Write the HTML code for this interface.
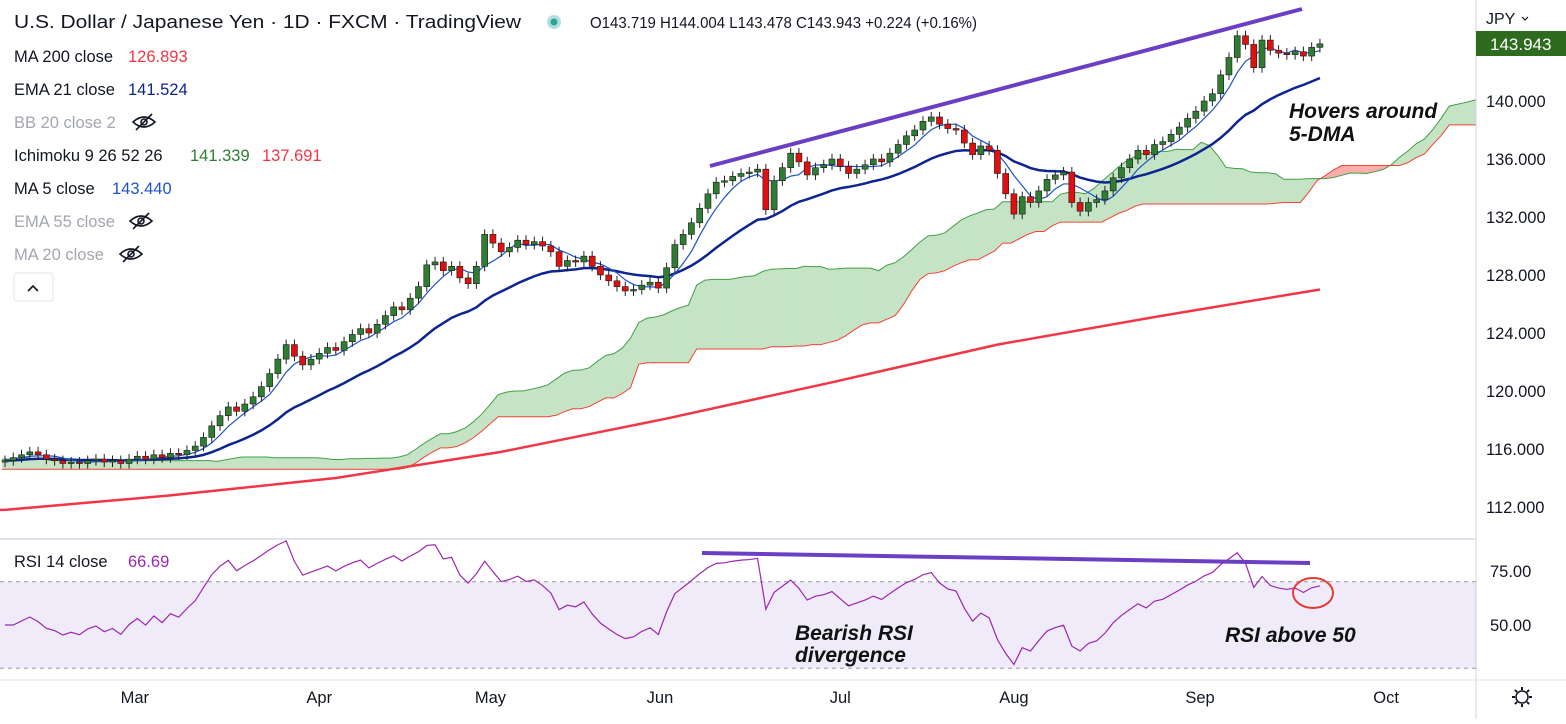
<!DOCTYPE html>
<html><head><meta charset="utf-8"><style>
html,body{margin:0;padding:0;background:#fff;}
body{width:1566px;height:719px;overflow:hidden;font-family:"Liberation Sans",sans-serif;}
svg text{font-family:"Liberation Sans",sans-serif;}
</style></head><body>
<svg id="c" width="1566" height="719" xmlns="http://www.w3.org/2000/svg"></svg>
<script>
const closes=[115.2,115.4,115.6,115.8,115.6,115.3,115.2,115.0,115.1,115.0,115.2,115.3,115.1,115.2,115.0,115.3,
115.5,115.3,115.6,115.4,115.7,115.6,115.9,116.2,116.8,
117.6,118.3,118.9,118.6,119.1,119.6,120.3,121.2,122.2,123.2,122.4,
121.8,122.2,122.6,123.0,122.8,123.4,123.9,124.3,124.0,124.6,125.2,125.8,125.6,126.4,127.2,128.7,128.9,128.3,128.6,127.8,127.4,128.6,130.8,130.2,129.6,129.9,130.4,130.1,130.3,130.0,129.6,128.6,129.0,128.9,129.3,128.6,128.0,127.6,127.2,126.9,127.0,127.3,127.5,127.1,128.5,130.1,130.8,131.6,132.6,133.6,134.4,134.5,134.8,135.0,135.1,135.3,132.5,134.5,135.4,136.4,135.8,134.9,135.4,135.6,136.0,135.5,135.0,135.3,135.6,136.0,135.8,136.4,137.0,137.6,138.0,138.6,138.9,138.4,138.1,138.0,137.1,136.3,136.9,136.6,135.0,133.6,132.2,133.4,133.0,133.8,134.6,134.9,135.1,133.0,132.4,133.0,133.2,133.8,134.7,135.4,136.0,136.6,136.3,137.0,137.2,137.7,138.2,138.8,139.3,140.0,140.5,141.8,143.0,144.5,143.9,142.3,144.2,143.5,143.3,143.2,143.4,143.1,143.7,143.943];
const ma200Idx=[0,20,40,60,80,100,120,140,159];
const ma200Val=[111.8,112.8,114.0,115.8,118.1,120.6,123.2,125.2,127.0];
const preSpanA=[115.3,115.3,115.4,115.4,115.3,115.3,115.2,115.2,115.2,115.2,115.2,115.2,115.2,115.2,115.2,115.2,115.2,115.2,115.2,115.2,115.2,115.2,115.2,115.2,115.2,115.2];
const preSpanB=[114.6,114.6,114.6,114.6,114.6,114.6,114.6,114.6,114.6,114.6,114.6,114.6,114.6,114.6,114.6,114.6,114.6,114.6,114.6,114.6,114.6,114.6,114.6,114.6,114.6,114.6];
const preHistHigh=116.3, preHistLow=112.9;
const priceTicks=[140,136,132,128,124,120,116,112];
const rsiTicks=[75,50];
const monthLabels=["Mar","Apr","May","Jun","Jul","Aug","Sep","Oct"];
const monthBar=[15.7,38,58.7,79.2,101,122,144.5,167];

const S=document.getElementById('c');const NS='http://www.w3.org/2000/svg';
function mk(t,a,p){const e=document.createElementNS(NS,t);for(const k in a)e.setAttribute(k,a[k]);(p||S).appendChild(e);return e;}
const X0=5,DX=8.27;
const xB=i=>X0+DX*i;
const yP=p=>101+(140-p)*14.5;
const yR=v=>571+(75-v)*2.16;
const N=closes.length;
const opens=closes.map((c,i)=>i?closes[i-1]:c-0.1);
const highs=closes.map((c,i)=>Math.max(c,opens[i])+0.35);
const lows=closes.map((c,i)=>Math.min(c,opens[i])-0.35);

const defs=mk('defs',{});const cp=mk('clipPath',{id:'cp'},defs);mk('rect',{x:0,y:0,width:1476,height:538},cp);
const cp2=mk('clipPath',{id:'cp2'},defs);mk('rect',{x:0,y:540,width:1476,height:140},cp2);
const main=mk('g',{'clip-path':'url(#cp)'});


function hl(i,n,pre){let h=-1e9,l=1e9;if(pre&&i-n+1<0){h=preHistHigh;l=preHistLow;}for(let k=Math.max(0,i-n+1);k<=i;k++){h=Math.max(h,highs[k]);l=Math.min(l,lows[k]);}return (h+l)/2;}
const spanA=preSpanA.slice(),spanB=preSpanB.slice();
for(let i=0;i<N;i++){spanA.push((hl(i,9)+hl(i,26))/2);spanB.push(hl(i,52,true));}
const xs=i=>xB(i)-3;
const cloud=mk('g',{},main);
for(let i=0;i<spanA.length-1;i++){const x1=xs(i),x2=xs(i+1);const g=(spanA[i]+spanA[i+1])>=(spanB[i]+spanB[i+1]);const col=g?'#c5e4c6':'#f8aeab';
mk('polygon',{points:`${x1},${yP(spanA[i])} ${x2},${yP(spanA[i+1])} ${x2},${yP(spanB[i+1])} ${x1},${yP(spanB[i])}`,fill:col,stroke:col,'stroke-width':0.6},cloud);}
const la=mk('polyline',{points:spanA.map((v,i)=>xs(i)+','+yP(v)).join(' '),fill:'none',stroke:'#43a047','stroke-width':1},main);
const lb=mk('polyline',{points:spanB.map((v,i)=>xs(i)+','+yP(v)).join(' '),fill:'none',stroke:'#f44336','stroke-width':1},main);

const m2=mk('polyline',{points:'0,'+yP(ma200Val[0])+' '+ma200Idx.map((b,k)=>xB(b)+','+yP(ma200Val[k])).join(' '),fill:'none',stroke:'#f23645','stroke-width':2.5},main);

let e=closes[0];const ema=[];closes.forEach(c=>{e=e+(c-e)*2/22;ema.push(e);});
const el=mk('polyline',{points:ema.map((v,i)=>xB(i)+','+yP(v)).join(' '),fill:'none',stroke:'#0c2590','stroke-width':2.5},main);

const ma5=closes.map((c,i)=>{let s=0,n=0;for(let k=Math.max(0,i-4);k<=i;k++){s+=closes[k];n++;}return s/n;});
const m5=mk('polyline',{points:ma5.map((v,i)=>xB(i)+','+yP(v)).join(' '),fill:'none',stroke:'#1e53c6','stroke-width':1.2},main);


const cg=mk('g',{},main);
for(let i=0;i<N;i++){const up=closes[i]>=opens[i];const x=xB(i);
mk('line',{x1:x,x2:x,y1:yP(highs[i]),y2:yP(lows[i]),stroke:'#222','stroke-width':1},cg);
const t=yP(Math.max(opens[i],closes[i])),b=yP(Math.min(opens[i],closes[i]));
const r=mk('rect',{x:x-3,y:t,width:6,height:Math.max(1.5,b-t),fill:up?'#2e7d32':'#e01010',stroke:'#1b1b1b','stroke-width':0.6},cg);
}

const t1=mk('line',{x1:710,y1:166,x2:1302,y2:9,stroke:'#6a3fc4','stroke-width':4},main);

function txt(x,y,s,a,name,inter){const t=mk('text',Object.assign({x:x,y:y},a));t.textContent=s;return t;}
function eye(x,y,c){const g=mk('g',{});
mk('path',{d:`M${x} ${y} Q${x+11} ${y-10} ${x+22} ${y} Q${x+11} ${y+10} ${x} ${y}Z`,fill:'none',stroke:c,'stroke-width':1.6},g);
mk('circle',{cx:x+11,cy:y,r:3,fill:'none',stroke:c,'stroke-width':1.6},g);
mk('line',{x1:x+3,y1:y+8,x2:x+19,y2:y-8,stroke:c,'stroke-width':1.6},g);}
const ann={'font-size':21,'font-style':'italic','font-weight':'bold',fill:'#111'};
txt(1289,118,'Hovers around',ann,'annotation-hovers');
txt(1289,141,'5-DMA',ann,'annotation-5dma');

txt(14,28,'U.S. Dollar / Japanese Yen · 1D · FXCM · TradingView',{'font-size':18,fill:'#131722',textLength:507,lengthAdjust:'spacingAndGlyphs'},'chart-title');
const dot=mk('circle',{cx:554,cy:22,r:7,fill:'#b2dfdb'});
mk('circle',{cx:554,cy:22,r:3.5,fill:'#26a69a'});
txt(590,28,'O143.719  H144.004  L143.478  C143.943  +0.224 (+0.16%)',{'font-size':16,fill:'#131722','xml:space':'preserve',textLength:387,lengthAdjust:'spacingAndGlyphs'},'ohlc-values');
const leg=[['MA 200 close','126.893','#f23645',62,128],['EMA 21 close','141.524','#0c2590',95,128],['BB 20 close 2','','',128,133],['Ichimoku 9 26 52 26','141.339','#2e7d32',161,190],['MA 5 close','143.440','#1e53c6',194,112],['EMA 55 close','','',227,130],['MA 20 close','','',260,120]];
leg.forEach(([n,v,c,y,vx])=>{const hid=!v;txt(14,y,n,{'font-size':16.5,fill:hid?'#a3a6af':'#131722'},'legend-'+n.toLowerCase().replace(/[^a-z0-9]+/g,'-'),'true');
if(v){txt(vx,y,v,{'font-size':16.5,fill:c},'legend-value');}else{eye(vx,y-6,'#131722');}});
txt(262,161,'137.691',{'font-size':16.5,fill:'#f23645'},'legend-ichimoku-b');
const cb=mk('rect',{x:14,y:273,width:39,height:28,rx:3,fill:'#fff',stroke:'#e0e3eb'});
mk('polyline',{points:'28,291 33,286 38,291',fill:'none',stroke:'#131722','stroke-width':1.6});

mk('line',{x1:0,y1:539,x2:1476,y2:539,stroke:'#e0e3eb','stroke-width':2});
mk('line',{x1:1476,y1:0,x2:1476,y2:719,stroke:'#d1d4dc','stroke-width':1});
mk('line',{x1:0,y1:680,x2:1566,y2:680,stroke:'#e0e3eb','stroke-width':1});
const pa=mk('g',{});
priceTicks.forEach(p=>{const t=mk('text',{x:1486,y:yP(p)+6,'font-size':16.5,fill:'#131722'},pa);t.textContent=p.toFixed(3);});
txt(1486,24,'JPY',{'font-size':16,fill:'#131722'},'currency-label','true');
mk('polyline',{points:'1522,17 1525,20 1528,17',fill:'none',stroke:'#131722','stroke-width':1.2});
const lbx=mk('rect',{x:1476,y:31,width:90,height:25,fill:'#2e6b1f'});
txt(1490,50,'143.943',{'font-size':17,fill:'#fff'},'last-price-text');

const rp=mk('g',{});
mk('rect',{x:0,y:yR(70),width:1476,height:yR(30)-yR(70),fill:'rgba(126,87,194,0.12)'},rp);
[70,30].forEach(v=>mk('line',{x1:0,x2:1476,y1:yR(v),y2:yR(v),stroke:'#9598a1','stroke-dasharray':'4,4','stroke-width':1},rp));
let ag=0,al=0;const rsi=[];
for(let i=0;i<N;i++){if(i==0){rsi.push(50);continue;}const d=closes[i]-closes[i-1];const g=Math.max(d,0),l=Math.max(-d,0);
if(i==1){ag=g||0.2;al=l||0.2;}else{ag=(ag*13+g)/14;al=(al*13+l)/14;}rsi.push(100-100/(1+ag/(al||1e-6)));}
const rl=mk('polyline',{points:rsi.map((v,i)=>xB(i)+','+yR(v)).join(' '),fill:'none',stroke:'#9c27b0','stroke-width':1.2,'clip-path':'url(#cp2)'},rp);

const t2=mk('line',{x1:702,y1:553,x2:1310,y2:563,stroke:'#6a3fc4','stroke-width':4});
const ci=mk('ellipse',{cx:1313,cy:593,rx:20,ry:15,fill:'none',stroke:'#e53935','stroke-width':2});
txt(14,567,'RSI 14 close',{'font-size':16.5,fill:'#131722'},'rsi-legend','true');
txt(128,567,'66.69',{'font-size':16.5,fill:'#9c27b0'},'rsi-value');
txt(795,640,'Bearish RSI',ann,'annotation-bearish');
txt(795,662,'divergence',ann,'annotation-divergence');
txt(1225,642,'RSI above 50',ann,'annotation-rsi-above-50');
rsiTicks.forEach(v=>{txt(1490,yR(v)+6,v.toFixed(2),{'font-size':16.5,fill:'#131722'},'rsi-tick-'+v);});

const ta=mk('g',{});
monthLabels.forEach((m,k)=>{const t=mk('text',{x:xB(monthBar[k]),y:703,'font-size':16.5,fill:'#131722','text-anchor':'middle'},ta);t.textContent=m;});
const gear=mk('g',{});
mk('circle',{cx:1522,cy:697,r:6,fill:'none',stroke:'#131722','stroke-width':1.5},gear);
for(let k=0;k<8;k++){const a=k*Math.PI/4;mk('line',{x1:1522+7*Math.cos(a),y1:697+7*Math.sin(a),x2:1522+10*Math.cos(a),y2:697+10*Math.sin(a),stroke:'#131722','stroke-width':2},gear);}
</script>
</body></html>
